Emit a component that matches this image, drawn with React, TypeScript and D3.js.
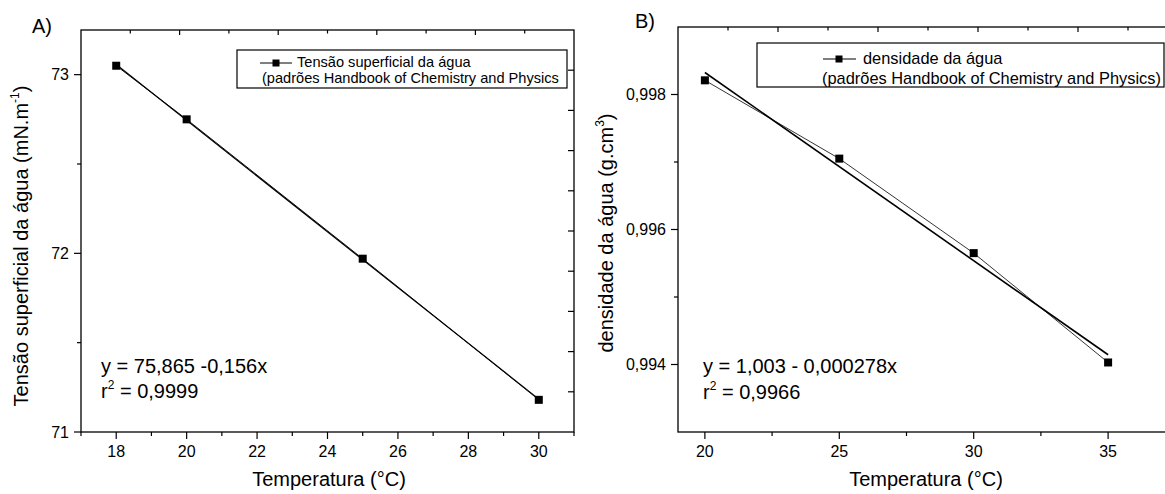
import React from "react";
import * as d3 from "d3";

// ---------- data ----------
const tempA = [18, 20, 25, 30];
const tensionA = [73.05, 72.75, 71.97, 71.18];
const tempB = [20, 25, 30, 35];
const densityB = [0.99821, 0.99705, 0.99565, 0.99403];

const xTicksA = [18, 20, 22, 24, 26, 28, 30];
const xMinorA = [17, 19, 21, 23, 25, 27, 29, 31];
const yTicksA = [71, 72, 73];
const yMinorA = [71.5, 72.5];

const xTicksB = [20, 25, 30, 35];
const xMinorB = [22.5, 27.5, 32.5, 37.5];
const yTicksB = [0.994, 0.996, 0.998];
const yMinorB = [0.995, 0.997];

const legendA = ["Tensão superficial da água", "(padrões Handbook of Chemistry and Physics"];
const legendB = ["densidade da água", "(padrões Handbook of Chemistry and Physics)"];
const eqA = ["y = 75,865 -0,156x", "0,9999"];
const eqB = ["y = 1,003 - 0,000278x", "0,9966"];

const FONT = "Arial, 'Liberation Sans', Helvetica, sans-serif";

function linFit(xs: number[], ys: number[]) {
  const mx = d3.mean(xs)!;
  const my = d3.mean(ys)!;
  let sxy = 0, sxx = 0;
  xs.forEach((x, i) => {
    sxy += (x - mx) * (ys[i] - my);
    sxx += (x - mx) * (x - mx);
  });
  const b = sxy / sxx;
  return { a: my - b * mx, b };
}

const fmtComma = (v: number, d: number) => v.toFixed(d).replace(".", ",");

function Frame({ x, y, left, right, top, bottom, xt, xm, yt, ym, xdec, ydec, tickFont }: any) {
  const els: any[] = [];
  const stroke = "#000";
  // frame
  els.push(<rect key="fr" x={left} y={top} width={right - left} height={bottom - top} fill="none" stroke={stroke} strokeWidth={1.3} />);
  // bottom ticks
  xt.forEach((v: number) => {
    const px = x(v);
    els.push(<line key={"bx" + v} x1={px} x2={px} y1={bottom} y2={bottom + 7} stroke={stroke} strokeWidth={1.2} />);
    els.push(<text key={"bt" + v} x={px} y={bottom + 25} textAnchor="middle" fontSize={16} fontFamily={FONT}>{fmtComma(v, xdec)}</text>);
  });
  xm.forEach((v: number) => {
    const px = x(v);
    if (px > right + 1) return;
    els.push(<line key={"bm" + v} x1={px} x2={px} y1={bottom} y2={bottom + 4} stroke={stroke} strokeWidth={1.2} />);
  });
  yt.forEach((v: number) => {
    const py = y(v);
    els.push(<line key={"ly" + v} x1={left - 7} x2={left} y1={py} y2={py} stroke={stroke} strokeWidth={1.2} />);
    els.push(<text key={"lt" + v} x={left - 12} y={py + 5.5} textAnchor="end" fontSize={tickFont} fontFamily={FONT}>{fmtComma(v, ydec)}</text>);
  });
  ym.forEach((v: number) => {
    const py = y(v);
    els.push(<line key={"lm" + v} x1={left - 4} x2={left} y1={py} y2={py} stroke={stroke} strokeWidth={1.2} />);
  });
  // top & right linked-axis ticks (10 divisions)
  const tx = d3.scaleLinear().domain([0, 10]).range([left, right]);
  const ty = d3.scaleLinear().domain([0, 10]).range([bottom, top]);
  d3.range(1, 10).forEach((k) => {
    const px = tx(k);
    els.push(<line key={"tt" + k} x1={px} x2={px} y1={top} y2={top + (k % 2 === 0 ? 5 : 3.5)} stroke={stroke} strokeWidth={1.2} />);
    const py = ty(k);
    els.push(<line key={"rt" + k} x1={right - 6} x2={right} y1={py} y2={py} stroke={stroke} strokeWidth={1.2} />);
  });
  return <g>{els}</g>;
}

function Square({ cx, cy, s }: any) {
  return <rect x={cx - s / 2} y={cy - s / 2} width={s} height={s} fill="#000" />;
}

export default function App() {
  const W = 1165, H = 494;

  // Panel A
  const LA = 81, RA = 574, TA = 30, BA = 432;
  const xA = d3.scaleLinear().domain([17, 31]).range([LA, RA]);
  const yA = d3.scaleLinear().domain([71, 73.25]).range([BA, TA]);
  const lineA = d3.line<number>().x((_, i) => xA(tempA[i])).y((d) => yA(d));
  const fitA = linFit(tempA, tensionA);
  const fitLineA = d3.line<number>().x((t) => xA(t)).y((t) => yA(fitA.a + fitA.b * t));

  // Panel B
  const LB = 678, RB = 1178, TB = 27, BB = 432;
  const xB = d3.scaleLinear().domain([19, 37.6]).range([LB, RB]);
  const yB = d3.scaleLinear().domain([0.993, 0.999]).range([BB, TB]);
  const lineB = d3.line<number>().x((_, i) => xB(tempB[i])).y((d) => yB(d));
  const fitB = linFit(tempB, densityB);
  const fitLineB = d3.line<number>().x((t) => xB(t)).y((t) => yB(fitB.a + fitB.b * t));
  const endsA = [tempA[0], tempA[tempA.length - 1]];
  const endsB = [tempB[0], tempB[tempB.length - 1]];

  return (
    <svg width={W} height={H} style={{ position: "absolute", left: 0, top: 0, background: "#fff" }} fontFamily={FONT}>
      <rect x={0} y={0} width={W} height={H} fill="#fff" />
      {/* ---------------- Panel A ---------------- */}
      <text x={32} y={33} fontSize={20} fontFamily={FONT}>A)</text>
      <Frame x={xA} y={yA} left={LA} right={RA} top={TA} bottom={BA} xt={xTicksA} xm={xMinorA} yt={yTicksA} ym={yMinorA} xdec={0} ydec={0} tickFont={16} />
      <path d={fitLineA(endsA) || ""} fill="none" stroke="#000" strokeWidth={1.2} />
      <path d={lineA(tensionA) || ""} fill="none" stroke="#000" strokeWidth={0.9} />
      {tensionA.map((v, i) => <Square key={"pa" + i} cx={xA(tempA[i])} cy={yA(v)} s={8} />)}
      {/* legend A */}
      <rect x={237} y={50} width={330} height={38} fill="#fff" stroke="#000" strokeWidth={1.2} />
      <line x1={260} x2={292} y1={63} y2={63} stroke="#000" strokeWidth={1} />
      <Square cx={276} cy={63} s={7} />
      <text x={297} y={67} fontSize={14.6} fontFamily={FONT}>{legendA[0]}</text>
      <text x={262} y={83} fontSize={14.6} fontFamily={FONT}>{legendA[1]}</text>
      {/* equation A */}
      <text x={101} y={373} fontSize={20} fontFamily={FONT}>{eqA[0]}</text>
      <text x={101} y={398} fontSize={20} fontFamily={FONT}>r<tspan fontSize={12} dy={-9}>2</tspan><tspan dy={9}>{" = " + eqA[1]}</tspan></text>
      {/* axis titles A */}
      <text x={329} y={486} textAnchor="middle" fontSize={20} fontFamily={FONT}>Temperatura (°C)</text>
      <text transform="translate(28,246) rotate(-90)" textAnchor="middle" fontSize={20} fontFamily={FONT}>
        Tensão superficial da água (mN.m<tspan fontSize={12} dy={-9}>-1</tspan><tspan dy={9}>)</tspan>
      </text>

      {/* ---------------- Panel B ---------------- */}
      <text x={635} y={28} fontSize={20} fontFamily={FONT}>B)</text>
      <Frame x={xB} y={yB} left={LB} right={RB} top={TB} bottom={BB} xt={xTicksB} xm={xMinorB} yt={yTicksB} ym={yMinorB} xdec={0} ydec={3} tickFont={16} />
      <path d={fitLineB(endsB) || ""} fill="none" stroke="#000" strokeWidth={1.6} />
      <path d={lineB(densityB) || ""} fill="none" stroke="#000" strokeWidth={0.8} />
      {densityB.map((v, i) => <Square key={"pb" + i} cx={xB(tempB[i])} cy={yB(v)} s={8} />)}
      {/* legend B */}
      <rect x={757} y={43} width={407} height={44} fill="#fff" stroke="#000" strokeWidth={1.2} />
      <line x1={823} x2={856} y1={59} y2={59} stroke="#000" strokeWidth={1} />
      <Square cx={839} cy={59} s={7} />
      <text x={863} y={64} fontSize={16.4} fontFamily={FONT}>{legendB[0]}</text>
      <text x={822} y={84} fontSize={16.4} fontFamily={FONT}>{legendB[1]}</text>
      {/* equation B */}
      <text x={703} y={373} fontSize={20} fontFamily={FONT}>{eqB[0]}</text>
      <text x={703} y={399} fontSize={20} fontFamily={FONT}>r<tspan fontSize={12} dy={-9}>2</tspan><tspan dy={9}>{" = " + eqB[1]}</tspan></text>
      {/* axis titles B */}
      <text x={926} y={486} textAnchor="middle" fontSize={20} fontFamily={FONT}>Temperatura (°C)</text>
      <text transform="translate(613,233) rotate(-90)" textAnchor="middle" fontSize={20} fontFamily={FONT}>
        densidade da água (g.cm<tspan fontSize={12} dy={-9}>3</tspan><tspan dy={9}>)</tspan>
      </text>
    </svg>
  );
}
